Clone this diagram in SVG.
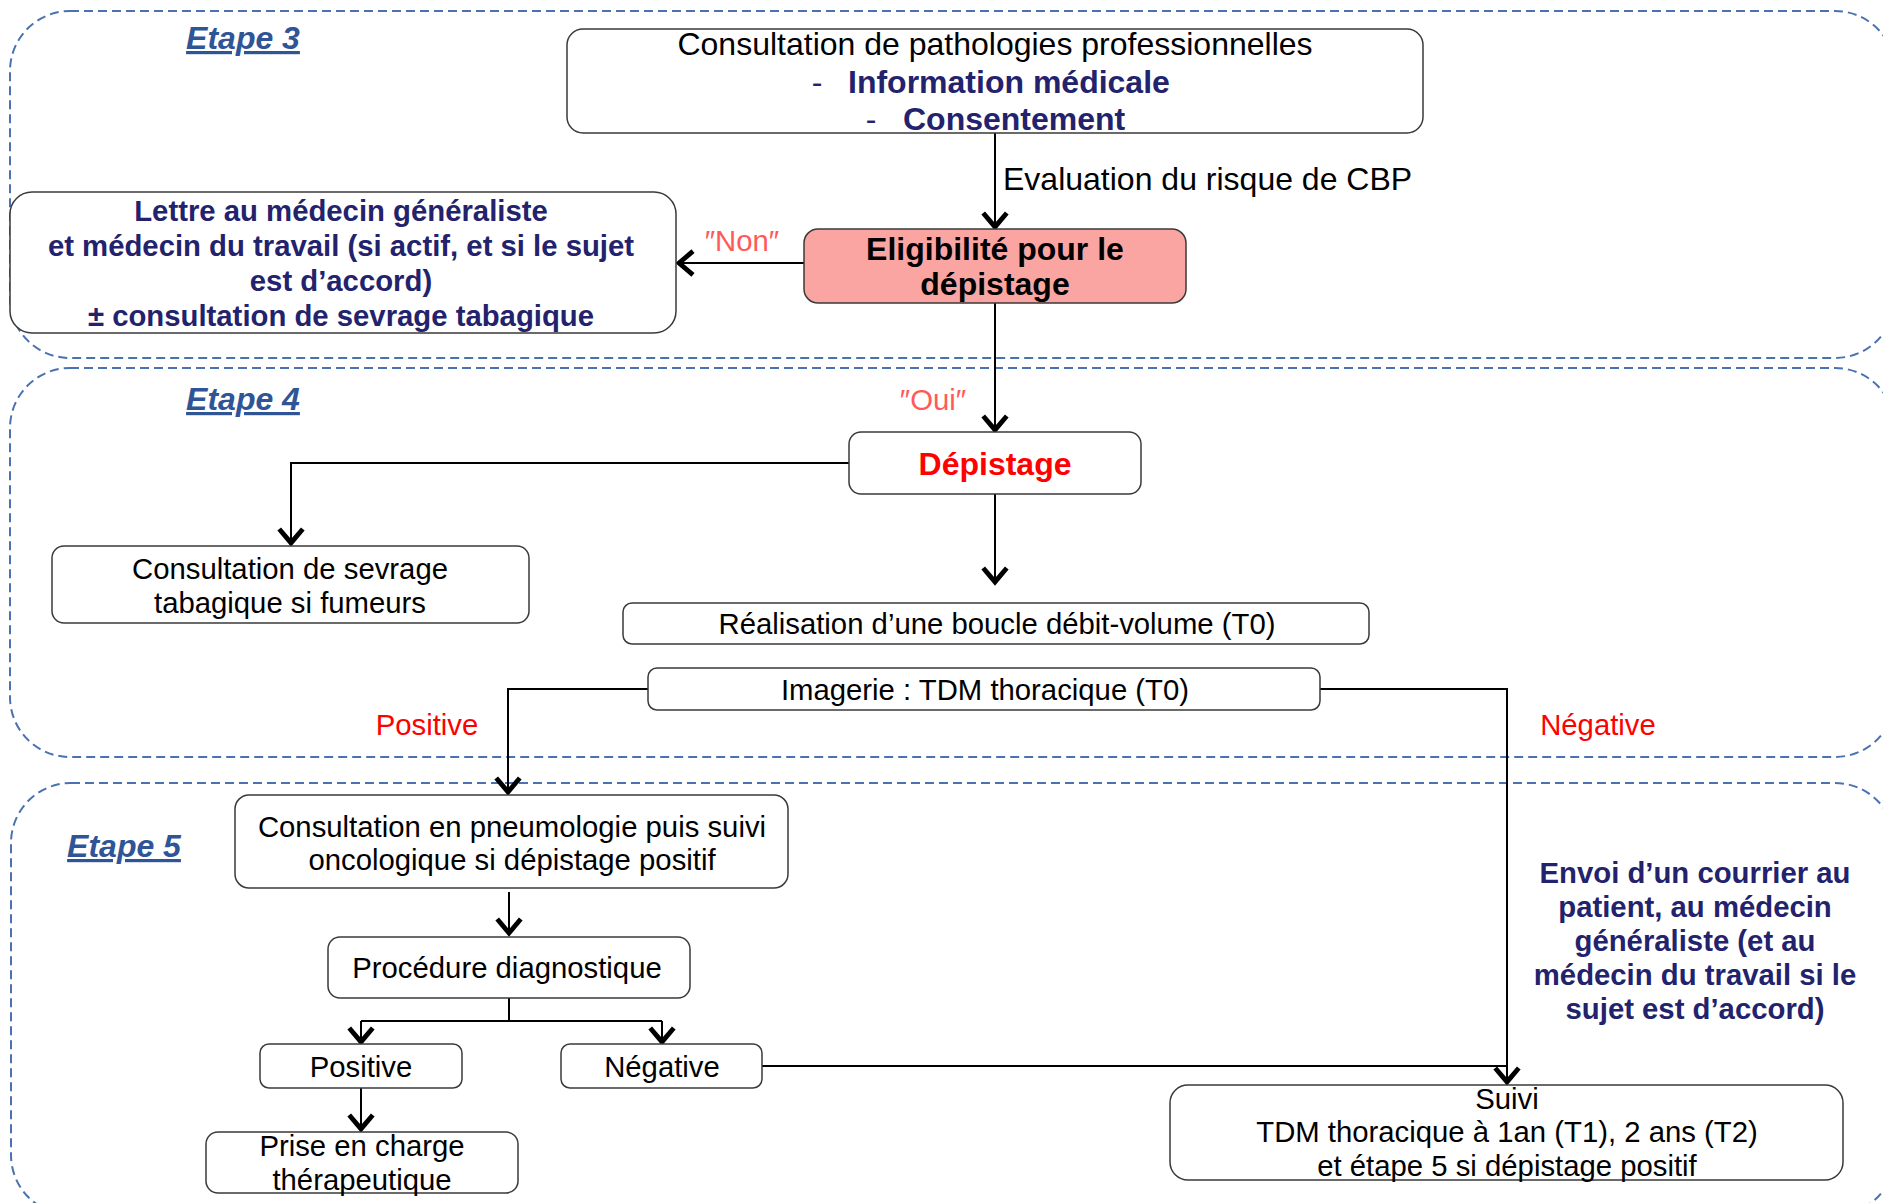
<svg xmlns="http://www.w3.org/2000/svg" width="1883" height="1203" viewBox="0 0 1883 1203">
<defs>
<style>
.zone{fill:none;stroke:#4A72B0;stroke-width:2;stroke-dasharray:9 5}
.box{fill:#fff;stroke:#3a3a3a;stroke-width:1.5}
.t{font-family:"Liberation Sans",Arial,sans-serif;font-size:29.3px;fill:#000;text-anchor:middle}
.big{font-size:32px}
.b{font-weight:bold}
.navy{fill:#23226C}
.red{fill:#FF0000}
.pink{fill:#FF5A5A}
.etape{font-family:"Liberation Sans",Arial,sans-serif;font-size:32px;font-weight:bold;font-style:italic;text-decoration:underline;fill:#2F5597;text-anchor:middle}
.c{fill:none;stroke:#000;stroke-width:2}
</style>
<marker id="arr" markerUnits="userSpaceOnUse" markerWidth="30" markerHeight="30" refX="0" refY="0" viewBox="-18 -14 22 28" orient="auto">
<path d="M-14,-11 L-1,0 L-14,11" fill="none" stroke="#000" stroke-width="4.5" stroke-linejoin="miter"/>
</marker>
</defs>
<rect width="1883" height="1203" fill="#fff"/>

<g id="zones">
<rect class="zone" x="10" y="11" width="1885" height="347" rx="60" ry="60"/>
<rect class="zone" x="10" y="368" width="1885" height="389" rx="60" ry="60"/>
<rect class="zone" x="11" y="783" width="1884" height="432" rx="60" ry="60"/>
<text class="etape" x="243" y="49">Etape 3</text>
<text class="etape" x="243" y="410">Etape 4</text>
<text class="etape" x="124" y="857">Etape 5</text>
</g>

<g id="connectors">
<line class="c" x1="995" y1="133" x2="995" y2="228" marker-end="url(#arr)"/>
<line class="c" x1="804" y1="263" x2="678" y2="263" marker-end="url(#arr)"/>
<line class="c" x1="995" y1="303" x2="995" y2="431" marker-end="url(#arr)"/>
<polyline class="c" points="849,463 291,463 291,544" marker-end="url(#arr)"/>
<line class="c" x1="995" y1="494" x2="995" y2="583" marker-end="url(#arr)"/>
<polyline class="c" points="648,689 508,689 508,793" marker-end="url(#arr)"/>
<polyline class="c" points="1320,689 1507,689 1507,1083" marker-end="url(#arr)"/>
<line class="c" x1="762" y1="1066" x2="1507" y2="1066"/>
<line class="c" x1="509" y1="892" x2="509" y2="934" marker-end="url(#arr)"/>
<polyline class="c" points="509,998 509,1021"/>
<line class="c" x1="361" y1="1021" x2="662" y2="1021"/>
<line class="c" x1="361" y1="1021" x2="361" y2="1043" marker-end="url(#arr)"/>
<line class="c" x1="662" y1="1021" x2="662" y2="1043" marker-end="url(#arr)"/>
<line class="c" x1="361" y1="1088" x2="361" y2="1130" marker-end="url(#arr)"/>
<text class="t big" x="1003" y="190" style="text-anchor:start">Evaluation du risque de CBP</text>
<text class="t pink" x="742" y="251">″Non″</text>
<text class="t pink" x="933" y="410">″Oui″</text>
<text class="t red" x="427" y="735">Positive</text>
<text class="t red" x="1598" y="735">Négative</text>
</g>

<g id="consultation-patho">
<rect class="box" x="567" y="29" width="856" height="104" rx="16"/>
<text class="t big" x="995" y="55">Consultation de pathologies professionnelles</text>
<text class="t big navy" x="817" y="93">-</text>
<text class="t big b navy" x="848" y="93" style="text-anchor:start">Information médicale</text>
<text class="t big navy" x="871" y="130">-</text>
<text class="t big b navy" x="903" y="130" style="text-anchor:start">Consentement</text>
</g>

<g id="eligibilite">
<rect x="804" y="229" width="382" height="74" rx="14" fill="#FBA5A3" stroke="#3a3a3a" stroke-width="1.5"/>
<text class="t big b" x="995" y="260">Eligibilité pour le</text>
<text class="t big b" x="995" y="295">dépistage</text>
</g>

<g id="lettre">
<rect class="box" x="10" y="192" width="666" height="141" rx="22"/>
<text class="t b navy" x="341" y="221">Lettre au médecin généraliste</text>
<text class="t b navy" x="341" y="256">et médecin du travail (si actif, et si le sujet</text>
<text class="t b navy" x="341" y="291">est d’accord)</text>
<text class="t b navy" x="341" y="326">± consultation de sevrage tabagique</text>
</g>

<g id="depistage">
<rect class="box" x="849" y="432" width="292" height="62" rx="12"/>
<text class="t big b red" x="995" y="475">Dépistage</text>
</g>

<g id="sevrage">
<rect class="box" x="52" y="546" width="477" height="77" rx="12"/>
<text class="t" x="290" y="579">Consultation de sevrage</text>
<text class="t" x="290" y="613">tabagique si fumeurs</text>
</g>

<g id="boucle">
<rect class="box" x="623" y="603" width="746" height="41" rx="9"/>
<text class="t" x="997" y="634">Réalisation d’une boucle débit-volume (T0)</text>
</g>

<g id="imagerie">
<rect class="box" x="648" y="668" width="672" height="42" rx="9"/>
<text class="t" x="985" y="700">Imagerie : TDM thoracique (T0)</text>
</g>

<g id="pneumo">
<rect class="box" x="235" y="795" width="553" height="93" rx="14"/>
<text class="t" x="512" y="837">Consultation en pneumologie puis suivi</text>
<text class="t" x="512" y="870">oncologique si dépistage positif</text>
</g>

<g id="procedure">
<rect class="box" x="328" y="937" width="362" height="61" rx="12"/>
<text class="t" x="507" y="978">Procédure diagnostique</text>
</g>

<g id="positive">
<rect class="box" x="260" y="1044" width="202" height="44" rx="9"/>
<text class="t" x="361" y="1077">Positive</text>
</g>

<g id="negative">
<rect class="box" x="561" y="1044" width="201" height="44" rx="9"/>
<text class="t" x="662" y="1077">Négative</text>
</g>

<g id="prise-en-charge">
<rect class="box" x="206" y="1132" width="312" height="61" rx="12"/>
<text class="t" x="362" y="1156">Prise en charge</text>
<text class="t" x="362" y="1190">thérapeutique</text>
</g>

<g id="envoi">
<text class="t b navy" x="1695" y="883">Envoi d’un courrier au</text>
<text class="t b navy" x="1695" y="917">patient, au médecin</text>
<text class="t b navy" x="1695" y="951">généraliste (et au</text>
<text class="t b navy" x="1695" y="985">médecin du travail si le</text>
<text class="t b navy" x="1695" y="1019">sujet est d’accord)</text>
</g>

<g id="suivi">
<rect class="box" x="1170" y="1085" width="673" height="95" rx="18"/>
<text class="t" x="1507" y="1109">Suivi</text>
<text class="t" x="1507" y="1142">TDM thoracique à 1an (T1), 2 ans (T2)</text>
<text class="t" x="1507" y="1176">et étape 5 si dépistage positif</text>
</g>
</svg>
